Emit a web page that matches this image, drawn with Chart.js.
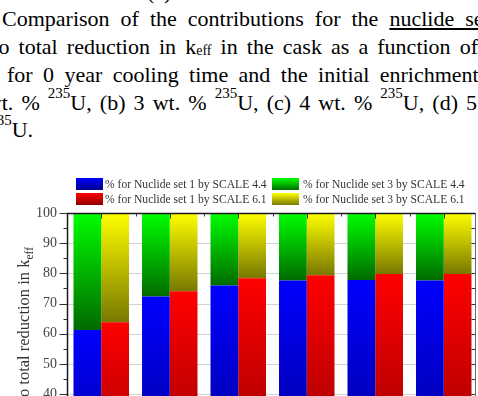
<!DOCTYPE html>
<html><head><meta charset="utf-8">
<script src="https://cdn.jsdelivr.net/npm/chart.js@4"></script>
<style>
html,body{margin:0;padding:0;background:#fff;width:478px;height:396px;overflow:hidden;position:relative;}
.cap{position:absolute;white-space:nowrap;font-family:"Liberation Serif","Times New Roman",serif;font-size:22px;line-height:28px;color:#000;}
.sup{font-size:15px;position:relative;top:-12px;line-height:1;}
.sub{font-size:14px;position:relative;top:1px;line-height:1;}
#wrap{position:absolute;left:0;top:160px;width:478px;height:236px;}
canvas{display:block;}
</style></head><body>
<div class="cap" style="left:147px;top:-22px">(e)</div>
<div class="cap" style="left:2px;top:5.3px;word-spacing:5.5px">Comparison of the contributions for the <u>nuclide set</u></div>
<div class="cap" style="left:-7.6px;top:32.9px;word-spacing:3.6px">to total reduction in k<span class="sub">eff</span> in the cask as a function of</div>
<div class="cap" style="left:7px;top:61.3px;word-spacing:4.9px">for 0 year cooling time and the initial enrichment</div>
<div class="cap" style="left:-14.2px;top:88.6px;word-spacing:2.6px">wt. % <span class="sup">235</span>U, (b) 3 wt. % <span class="sup">235</span>U, (c) 4 wt. % <span class="sup">235</span>U, (d) 5</div>
<div class="cap" style="left:-10.8px;top:115.9px"><span class="sup">235</span>U.</div>
<div id="wrap"><canvas id="c" width="478" height="236"></canvas></div>
<script>
const categories = ['10', '20', '30', '40', '50', '60'];
const set1Scale44 = [61.2, 72.3, 76.0, 77.6, 77.8, 77.6];
const set1Scale61 = [63.8, 74.1, 78.4, 79.4, 79.8, 79.8];
const set3Scale44 = [38.8, 27.7, 24.0, 22.4, 22.2, 22.4];
const set3Scale61 = [36.2, 25.9, 21.6, 20.6, 20.2, 20.2];
const yTickValues = [40, 50, 60, 70, 80, 90, 100];
const seriesLabels = [
  '% for Nuclide set 1 by SCALE 4.4',
  '% for Nuclide set 1 by SCALE 6.1',
  '% for Nuclide set 3 by SCALE 4.4',
  '% for Nuclide set 3 by SCALE 6.1'
];
const yTitleMain = '% contribution to total reduction in k';
const yTitleSub = 'eff';

const FONT = '"Liberation Serif", "Times New Roman", serif';
const colorsTop = ['#0000ff', '#ff0000', '#00ff00', '#ffff00'];
const colorsBot = ['#000080', '#800000', '#006a00', '#787800'];
const swatchBot = ['#000090', '#900000', '#007000', '#7a7a00'];

function gradFill(i, baseArr) {
  return function (ctx) {
    const chart = ctx.chart;
    if (!chart.chartArea || ctx.dataIndex === undefined) return colorsTop[i];
    const y = chart.scales.y;
    const base = baseArr ? baseArr[ctx.dataIndex] : 0;
    const v = ctx.dataset.data[ctx.dataIndex];
    const yTop = y.getPixelForValue(base + v);
    const yBot = y.getPixelForValue(base);
    const g = chart.ctx.createLinearGradient(0, yTop, 0, yBot);
    g.addColorStop(0, colorsTop[i]);
    g.addColorStop(1, colorsBot[i]);
    return g;
  };
}

const decor = {
  id: 'decor',
  beforeDatasetsDraw(chart) {
    const { ctx, scales: { y } } = chart;
    ctx.save();
    ctx.strokeStyle = '#d2d2d2';
    ctx.lineWidth = 1;
    yTickValues.forEach(v => {
      if (v >= 100) return;
      const py = Math.round(y.getPixelForValue(v)) + 0.5;
      ctx.beginPath(); ctx.moveTo(67.5, py); ctx.lineTo(475, py); ctx.stroke();
    });
    ctx.restore();
  },
  afterDraw(chart) {
    const { ctx, chartArea: a, scales: { x, y } } = chart;
    const L = 67.5, R = 475.5, T = a.top + 0.5, B = chart.height;
    ctx.save();
    ctx.strokeStyle = '#333';
    ctx.lineWidth = 1;
    yTickValues.forEach((v, k) => {
      const py = Math.round(y.getPixelForValue(v)) + 0.5;
      ctx.beginPath(); ctx.moveTo(L - 8, py); ctx.lineTo(L, py); ctx.stroke();
      ctx.beginPath(); ctx.moveTo(R - 4, py); ctx.lineTo(R, py); ctx.stroke();
      if (k < yTickValues.length - 1) {
        const pm = Math.round(y.getPixelForValue((v + yTickValues[k + 1]) / 2)) + 0.5;
        ctx.beginPath(); ctx.moveTo(L - 4, pm); ctx.lineTo(L, pm); ctx.stroke();
        ctx.beginPath(); ctx.moveTo(R - 4, pm); ctx.lineTo(R, pm); ctx.stroke();
      }
    });
    categories.forEach((c, i) => {
      const px = Math.round(x.getPixelForValue(i)) + 0.5;
      ctx.beginPath(); ctx.moveTo(px, T); ctx.lineTo(px, T + 5); ctx.stroke();
      if (i < categories.length - 1) {
        const pb = Math.round((x.getPixelForValue(i) + x.getPixelForValue(i + 1)) / 2) + 0.5;
        ctx.beginPath(); ctx.moveTo(pb, T); ctx.lineTo(pb, T + 3); ctx.stroke();
      }
    });
    ctx.strokeStyle = '#666';
    ctx.lineWidth = 1;
    ctx.beginPath(); ctx.moveTo(R, T); ctx.lineTo(R, B); ctx.stroke();
    ctx.strokeStyle = '#1a1a1a';
    ctx.lineWidth = 1.5;
    ctx.beginPath(); ctx.moveTo(L, B); ctx.lineTo(L, T); ctx.lineTo(R, T); ctx.stroke();

    // legend
    const cols = [[76, 105], [272, 303]];
    const rows = [18, 33];
    const order = [[0, 2], [1, 3]];
    ctx.font = '11.6px ' + FONT;
    ctx.textAlign = 'left';
    ctx.textBaseline = 'middle';
    order.forEach((row, r) => {
      row.forEach((di, cIdx) => {
        const sx = cols[cIdx][0], sy = rows[r];
        const g = ctx.createLinearGradient(0, sy, 0, sy + 12);
        g.addColorStop(0, colorsTop[di]);
        g.addColorStop(1, swatchBot[di]);
        ctx.fillStyle = g;
        ctx.fillRect(sx, sy, 27, 12);
        ctx.fillStyle = '#333';
        ctx.fillText(chart.data.datasets[di].label, cols[cIdx][1], sy + 6.5);
      });
    });

    // y title (rotated, with subscript)
    ctx.translate(29, 87);
    ctx.rotate(-Math.PI / 2);
    ctx.fillStyle = '#333';
    ctx.textAlign = 'right';
    ctx.textBaseline = 'alphabetic';
    ctx.font = '11.5px ' + FONT;
    const ws = ctx.measureText(yTitleSub).width;
    ctx.fillText(yTitleSub, 0, 4);
    ctx.font = '16.5px ' + FONT;
    ctx.fillText(yTitleMain, -ws, 0);
    ctx.restore();
  }
};

new Chart(document.getElementById('c'), {
  type: 'bar',
  data: {
    labels: categories,
    datasets: [
      { label: seriesLabels[0], data: set1Scale44, stack: 'a', backgroundColor: gradFill(0, null) },
      { label: seriesLabels[1], data: set1Scale61, stack: 'b', backgroundColor: gradFill(1, null) },
      { label: seriesLabels[2], data: set3Scale44, stack: 'a', backgroundColor: gradFill(2, set1Scale44) },
      { label: seriesLabels[3], data: set3Scale61, stack: 'b', backgroundColor: gradFill(3, set1Scale61) }
    ]
  },
  options: {
    responsive: false,
    animation: false,
    devicePixelRatio: 1,
    layout: { padding: { top: 53, left: 0, right: 0, bottom: 0 } },
    datasets: { bar: { categoryPercentage: 0.81, barPercentage: 1.0, borderWidth: 0 } },
    plugins: { legend: { display: false }, title: { display: false }, tooltip: { enabled: false } },
    scales: {
      x: {
        type: 'category', stacked: true, display: false, grid: { display: false },
        afterFit: s => { s.height = 0; s.paddingTop = 0; s.paddingBottom = 0; s.paddingLeft = 0; s.paddingRight = 0; }
      },
      y: {
        stacked: true, min: 39.34, max: 100, position: 'left',
        grid: { display: false, drawTicks: false },
        border: { display: false },
        ticks: { font: { family: FONT, size: 14 }, color: '#444', padding: 10 },
        afterBuildTicks: s => { s.ticks = yTickValues.map(v => ({ value: v })); },
        afterFit: s => { s.width = 67; s.paddingTop = 0; s.paddingBottom = 0; }
      }
    }
  },
  plugins: [decor]
});
</script>
</body></html>
